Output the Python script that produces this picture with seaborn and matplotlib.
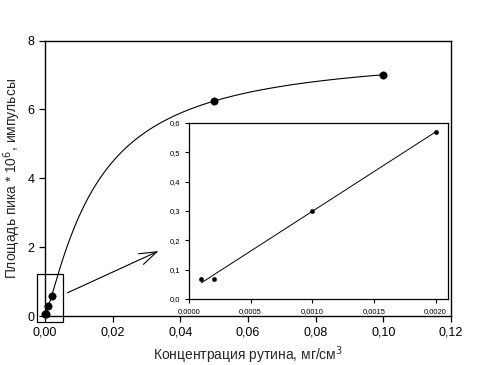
import numpy as np
import pandas as pd
import matplotlib
matplotlib.use("Agg")
import matplotlib.pyplot as plt
import seaborn as sns

# Данные: концентрация рутина (мг/см3) и площадь пика (*10^6)
conc_main = [0.0001, 0.0002, 0.001, 0.002, 0.05, 0.10]
area_main = [0.068, 0.068, 0.30, 0.57, 6.25, 7.00]

conc_low = [0.0001, 0.0002, 0.001, 0.002]
area_low = [0.068, 0.068, 0.30, 0.57]

main_xticks = [0.00, 0.02, 0.04, 0.06, 0.08, 0.10, 0.12]
main_xlabels = ["0,00", "0,02", "0,04", "0,06", "0,08", "0,10", "0,12"]
main_yticks = [0, 2, 4, 6, 8]
main_ylabels = ["0", "2", "4", "6", "8"]

ins_xticks = [0.0000, 0.0005, 0.0010, 0.0015, 0.0020]
ins_xlabels = ["0,0000", "0,0005", "0,0010", "0,0015", "0,0020"]
ins_yticks = [0.0, 0.1, 0.2, 0.3, 0.4, 0.5, 0.6]
ins_ylabels = ["0,0", "0,1", "0,2", "0,3", "0,4", "0,5", "0,6"]

sns.set_style("ticks")
plt.rcParams["font.family"] = ["Liberation Sans", "DejaVu Sans"]

df_main = pd.DataFrame({"x": conc_main, "y": area_main})
df_low = pd.DataFrame({"x": conc_low, "y": area_low})

# Аппроксимация y = a*x^n/(b^n+x^n) по всем точкам (перебор b, n; a - МНК)
xs = np.array(conc_main)
ys = np.array(area_main)
best = None
for n in np.linspace(0.8, 2.0, 121):
    for b in np.linspace(0.005, 0.05, 451):
        f = xs ** n / (b ** n + xs ** n)
        a = (f @ ys) / (f @ f)
        err = np.sum((a * f - ys) ** 2)
        if best is None or err < best[0]:
            best = (err, a, b, n)
_, a_fit, b_fit, n_fit = best
xc = np.linspace(0, 0.1, 400)
df_curve = pd.DataFrame({"x": xc, "y": a_fit * xc ** n_fit / (b_fit ** n_fit + xc ** n_fit)})

# Линейная регрессия для вставки
k, c = np.polyfit(conc_low, area_low, 1)
xl = np.array([conc_low[0], conc_low[-1]])
df_lin = pd.DataFrame({"x": xl, "y": k * xl + c})

fig = plt.figure(figsize=(4.9, 3.65), dpi=100)
ax = fig.add_axes([0.0918, 0.1342, 0.8286, 0.7548])

sns.lineplot(data=df_curve, x="x", y="y", ax=ax, color="black", lw=0.8)
sns.scatterplot(data=df_main, x="x", y="y", ax=ax, color="black", s=28,
                edgecolor="black", zorder=5, clip_on=False)

ax.set_xlim(0, 0.12)
ax.set_ylim(0, 8)
ax.set_xticks(main_xticks)
ax.set_xticklabels(main_xlabels)
ax.set_yticks(main_yticks)
ax.set_yticklabels(main_ylabels)
ax.tick_params(direction="out", length=4, width=0.9, labelsize=9, colors="black")
for s in ax.spines.values():
    s.set_linewidth(1.0)
    s.set_color("black")
ax.set_xlabel("Концентрация рутина, мг/см$^3$", fontsize=10, labelpad=4)
ax.set_ylabel("Площадь пика * 10$^6$, импульсы", fontsize=10, labelpad=3)

# рамка вокруг области малых концентраций и стрелка
rect = plt.Rectangle((-0.00236, -0.17), 0.00766, 1.39, fill=False,
                     edgecolor="black", lw=0.9, clip_on=False)
ax.add_patch(rect)
ax.annotate("", xy=(0.0343, 1.92), xytext=(0.0059, 0.64),
            arrowprops=dict(arrowstyle="->, head_length=0.9, head_width=0.3",
                            color="black", lw=0.8, mutation_scale=14))

# вставка
ins = fig.add_axes([0.3857, 0.1808, 0.5286, 0.4822])
sns.lineplot(data=df_lin, x="x", y="y", ax=ins, color="black", lw=0.7)
sns.scatterplot(data=df_low, x="x", y="y", ax=ins, color="black", s=10,
                edgecolor="black", zorder=5)
ins.set_xlim(0, 0.0021)
ins.set_ylim(0, 0.6)
ins.set_xticks(ins_xticks)
ins.set_xticklabels(ins_xlabels)
ins.set_yticks(ins_yticks)
ins.set_yticklabels(ins_ylabels)
ins.tick_params(direction="out", length=3, width=0.8, labelsize=5.5, colors="black")
for s in ins.spines.values():
    s.set_linewidth(0.9)
    s.set_color("black")
ins.set_xlabel("")
ins.set_ylabel("")

fig.savefig("out.png", dpi=100)
